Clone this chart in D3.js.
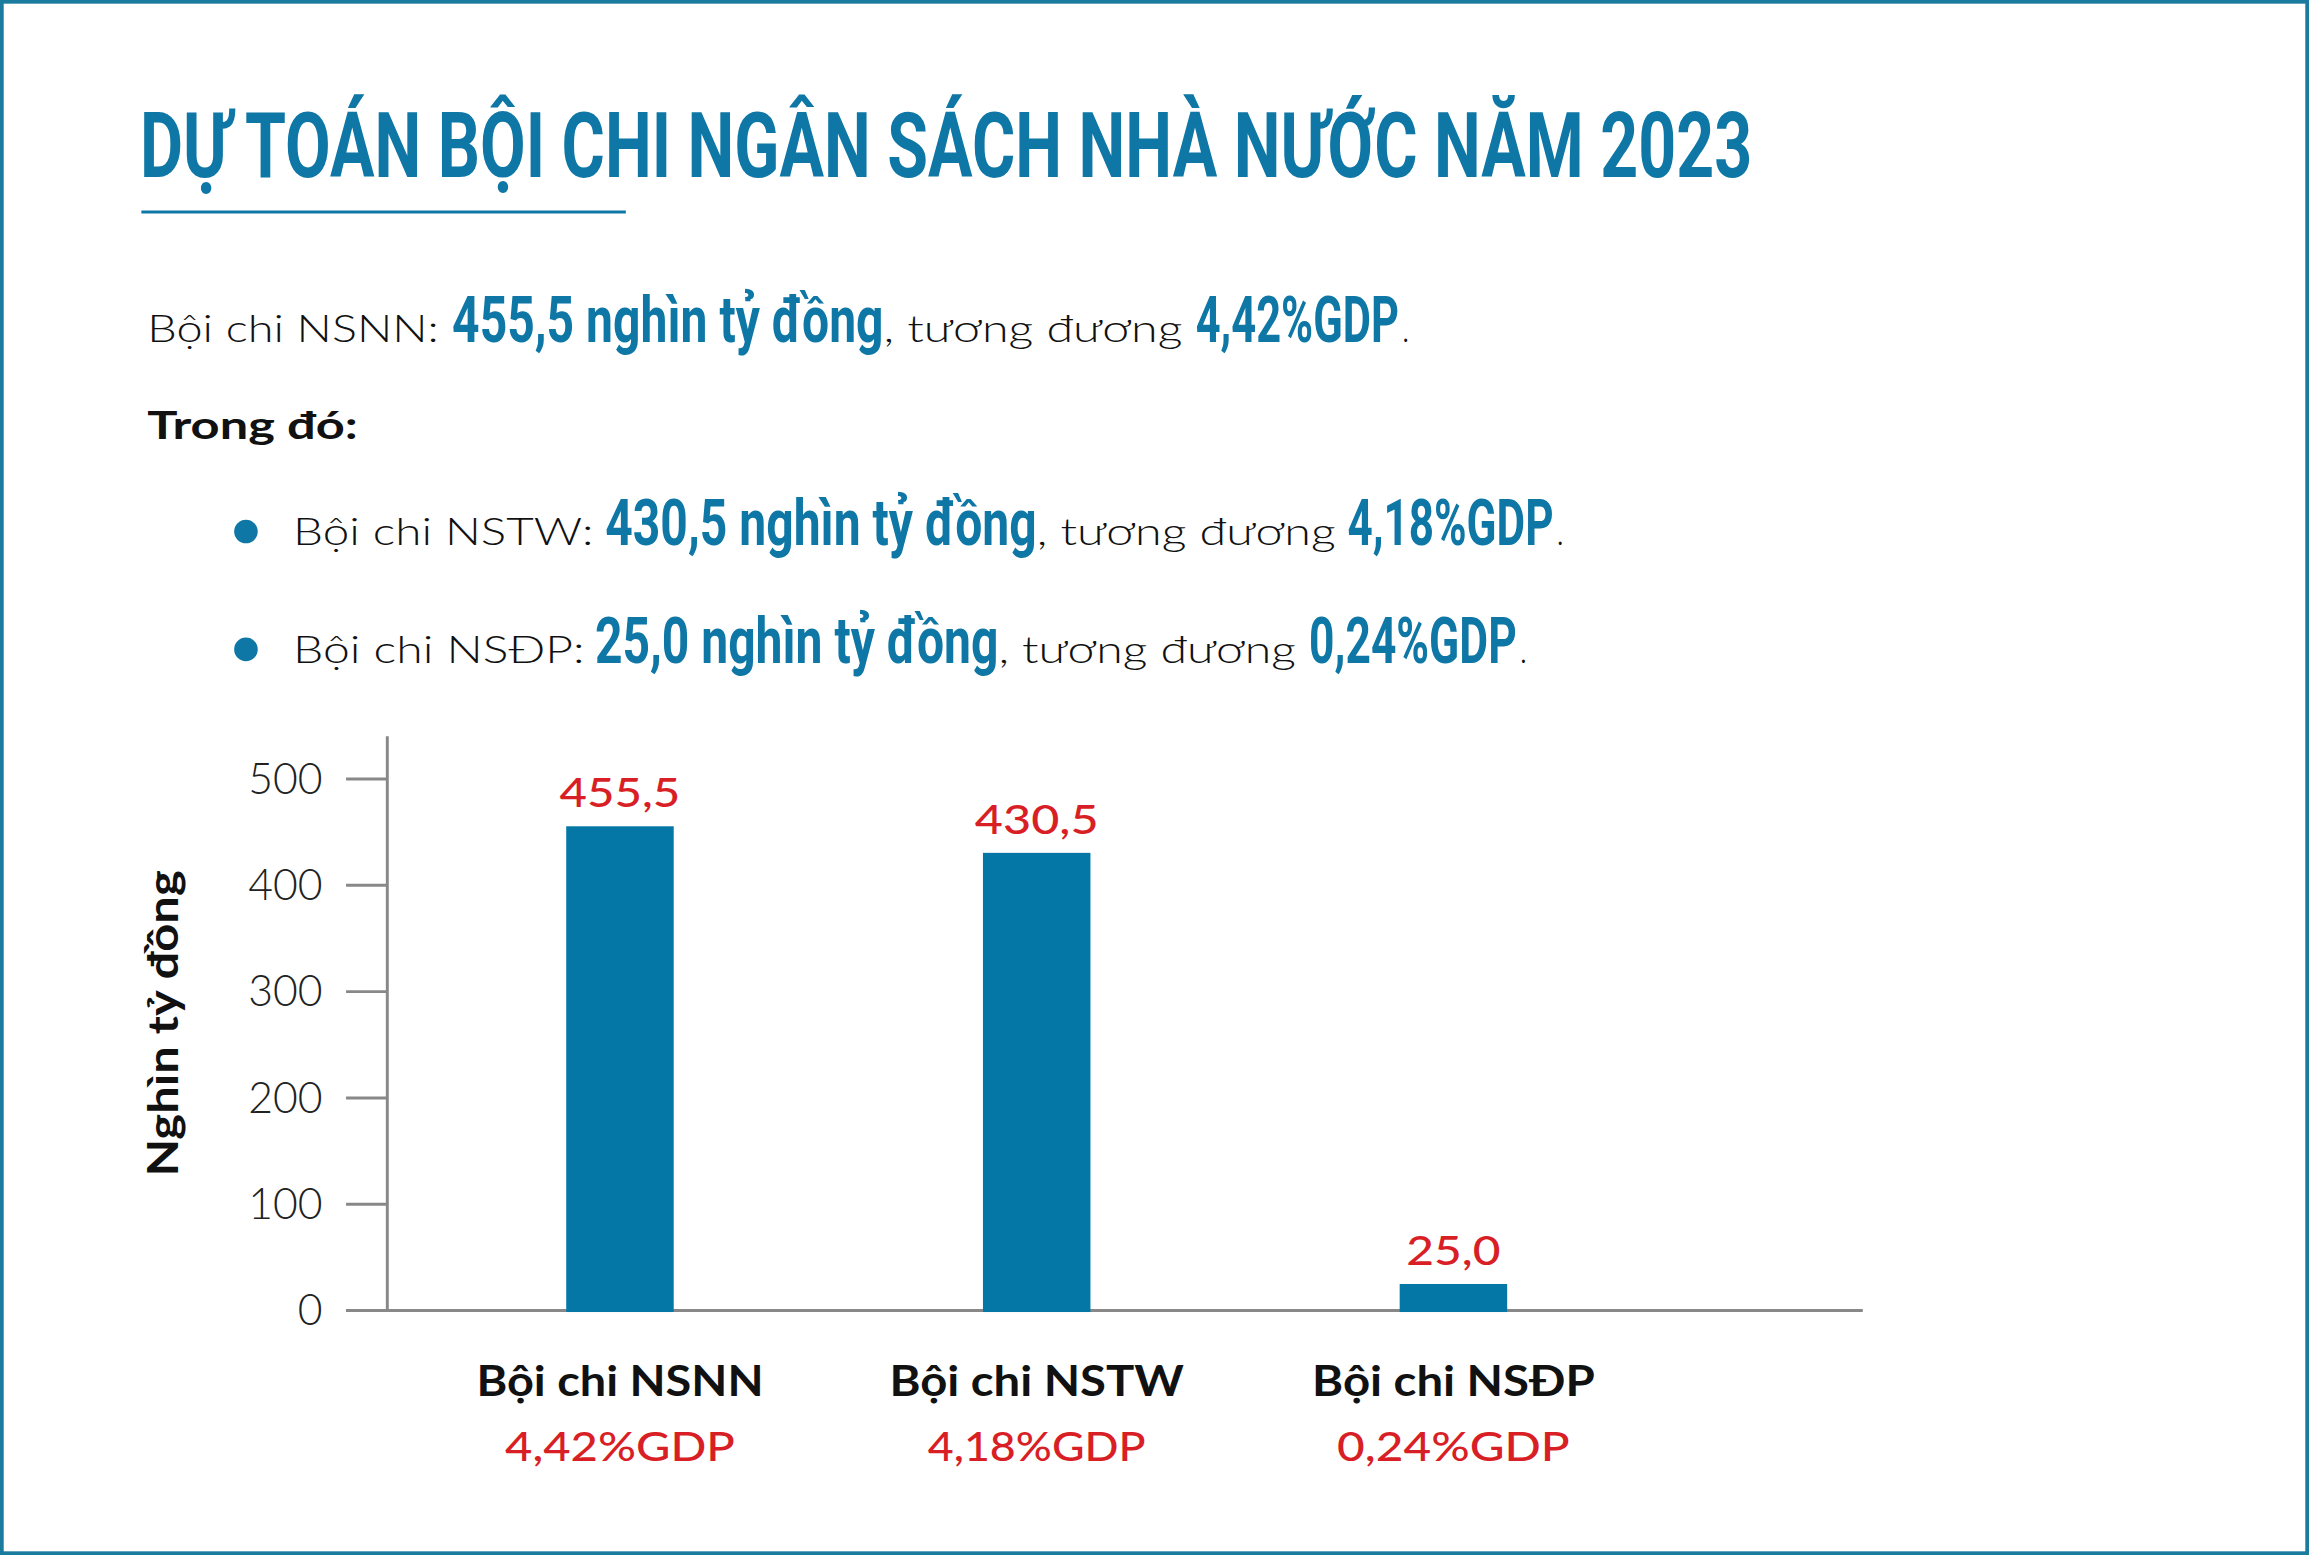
<!DOCTYPE html>
<html><head><meta charset="utf-8">
<script src="https://cdn.jsdelivr.net/npm/d3@7"></script>
<style>html,body{margin:0;padding:0;background:#fff}</style>
</head><body>
<script>
const categories = ["Bội chi NSNN", "Bội chi NSTW", "Bội chi NSĐP"];
const values = [455.5, 430.5, 25.0];
const valueLabels = ["455,5", "430,5", "25,0"];
const gdpLabels = ["4,42%GDP", "4,18%GDP", "0,24%GDP"];
const yTicks = [0, 100, 200, 300, 400, 500];

const teal = "#0e77a5", red = "#d91f26", font = "Lato, 'Noto Sans', sans-serif";
const svg = d3.select("body").append("svg")
  .attr("width", 2309).attr("height", 1555).attr("viewBox", "0 0 1568 1056");
svg.append("rect").attr("x", 1).attr("y", 1).attr("width", 1566).attr("height", 1054)
  .attr("fill", "#fff").attr("stroke", "#1b7b9f").attr("stroke-width", 3);

function t(x, y, s, size, opts = {}) {
  const e = svg.append("text").attr("x", x).attr("y", y).text(s)
    .attr("font-family", opts.family || font).attr("font-size", size)
    .attr("font-weight", opts.weight || 400).attr("fill", opts.fill || "#111");
  if (opts.len) e.attr("textLength", opts.len).attr("lengthAdjust", "spacingAndGlyphs");
  if (opts.anchor) e.attr("text-anchor", opts.anchor);
  return e;
}
const cond = {family: "'Liberation Sans Narrow','Roboto','DejaVu Sans Condensed',sans-serif", weight: 700, fill: teal};

t(95, 120, "DỰ TOÁN BỘI CHI NGÂN SÁCH NHÀ NƯỚC NĂM 2023", 62, {...cond, len: 1095});
svg.append("line").attr("x1", 96).attr("x2", 425).attr("y1", 144).attr("y2", 144).attr("stroke", teal).attr("stroke-width", 2);

function row(y, parts) {
  parts.forEach(p => {
    if (p.b) t(p.x, y, p.s, 44, {...cond, len: p.w});
    else t(p.x, y, p.s, 26, {weight: 300, len: p.w});
  });
}
row(232, [{x:100,s:"Bội chi NSNN:",w:198},{x:307,s:"455,5 nghìn tỷ đồng",w:293,b:1},{x:600,s:", tương đương",w:203},{x:812,s:"4,42%GDP",w:138,b:1},{x:952,s:".",w:5}]);
t(100, 298, "Trong đó:", 26, {weight: 700, len: 143});
svg.append("circle").attr("cx", 167).attr("cy", 361).attr("r", 8).attr("fill", teal);
svg.append("circle").attr("cx", 167).attr("cy", 441).attr("r", 8).attr("fill", teal);
row(370, [{x:199,s:"Bội chi NSTW:",w:204},{x:411,s:"430,5 nghìn tỷ đồng",w:293,b:1},{x:704,s:", tương đương",w:203},{x:915,s:"4,18%GDP",w:140,b:1},{x:1057,s:".",w:5}]);
row(450, [{x:199,s:"Bội chi NSĐP:",w:198},{x:404,s:"25,0 nghìn tỷ đồng",w:274,b:1},{x:678,s:", tương đương",w:202},{x:889,s:"0,24%GDP",w:141,b:1},{x:1032,s:".",w:5}]);

// chart
const y = d3.scaleLinear().domain([0, 500]).range([890, 529]);
const x = d3.scaleBand().domain(categories).range([279.5, 1128.5]).padding(0);
const g = svg.append("g");
g.append("line").attr("x1", 263).attr("x2", 263).attr("y1", 500).attr("y2", 890).attr("stroke", "#888").attr("stroke-width", 2);
g.selectAll(".tk").data(yTicks).join("line").attr("x1", 235).attr("x2", 263)
  .attr("y1", d => y(d)).attr("y2", d => y(d)).attr("stroke", "#888").attr("stroke-width", 2);
g.append("line").attr("x1", 235).attr("x2", 1265).attr("y1", 890).attr("y2", 890).attr("stroke", "#888").attr("stroke-width", 2);
g.selectAll(".yl").data(yTicks).join("text").attr("x", 219).attr("y", d => y(d) + 10)
  .attr("text-anchor", "end").attr("font-family", font).attr("font-weight", 300).attr("font-size", 29).attr("fill", "#222").text(d => d);
const cx = d => x(d) + x.bandwidth() / 2;
g.selectAll(".bar").data(categories).join("rect").attr("x", d => cx(d) - 36.5).attr("width", 73)
  .attr("y", (d, i) => y(values[i])).attr("height", (d, i) => 891 - y(values[i])).attr("fill", "#0477a6");
const vlLen = [82, 84, 64], clLen = [195, 200, 192], glLen = [156, 148, 158];
g.selectAll(".vl").data(categories).join("text").attr("x", cx).attr("y", (d, i) => y(values[i]) - 13)
  .attr("text-anchor", "middle").attr("font-family", font).attr("font-weight", 500).attr("font-size", 28).attr("fill", red)
  .attr("textLength", (d, i) => vlLen[i]).attr("lengthAdjust", "spacingAndGlyphs").text((d, i) => valueLabels[i]);
g.selectAll(".cl").data(categories).join("text").attr("x", cx).attr("y", 948)
  .attr("text-anchor", "middle").attr("font-family", font).attr("font-weight", 700).attr("font-size", 28).attr("fill", "#111")
  .attr("textLength", (d, i) => clLen[i]).attr("lengthAdjust", "spacingAndGlyphs").text(d => d);
g.selectAll(".gl").data(categories).join("text").attr("x", cx).attr("y", 992)
  .attr("text-anchor", "middle").attr("font-family", font).attr("font-weight", 500).attr("font-size", 28).attr("fill", red)
  .attr("textLength", (d, i) => glLen[i]).attr("lengthAdjust", "spacingAndGlyphs").text((d, i) => gdpLabels[i]);
svg.append("text").attr("transform", "translate(121,695) rotate(-90)").attr("text-anchor", "middle")
  .attr("font-family", font).attr("font-weight", 700).attr("font-size", 28).attr("fill", "#111")
  .attr("textLength", 208).attr("lengthAdjust", "spacingAndGlyphs").text("Nghìn tỷ đồng");
</script>
</body></html>
